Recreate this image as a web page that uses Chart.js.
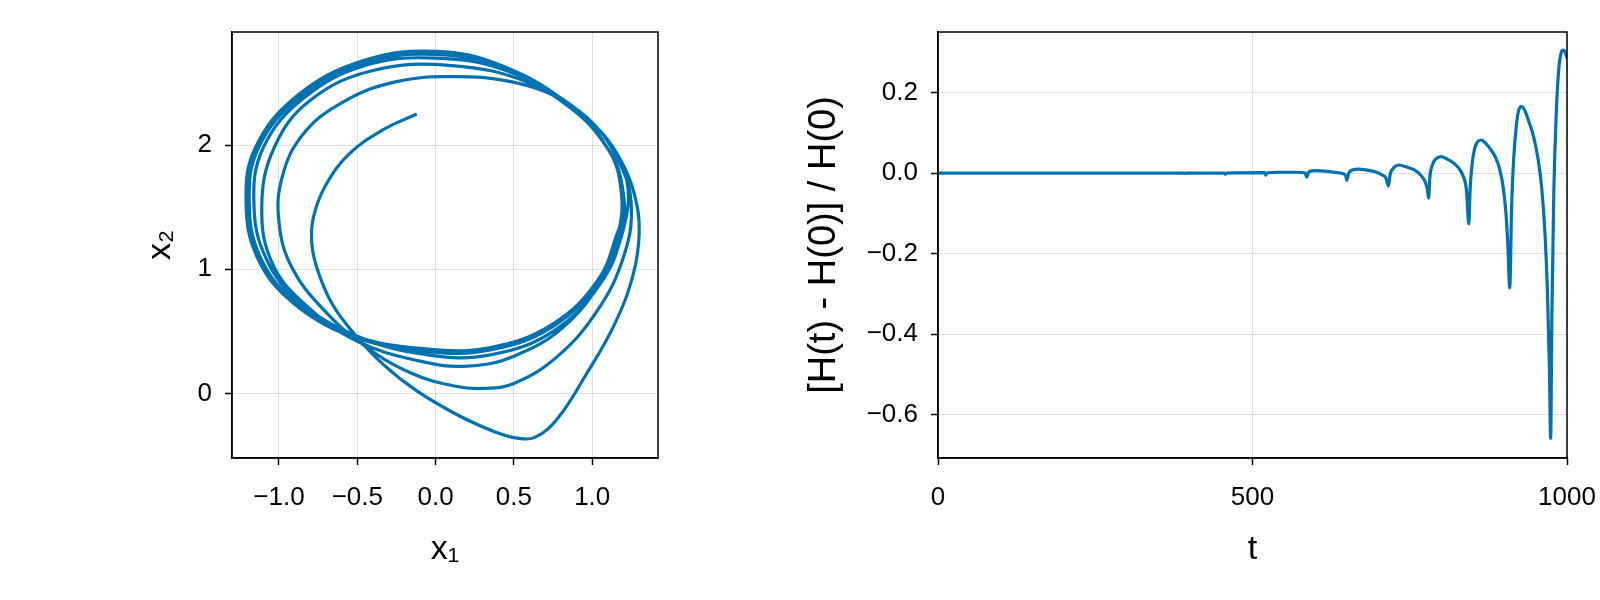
<!DOCTYPE html>
<html lang="en">
<head>
  <meta charset="UTF-8">
  <title>Phase portrait and energy error</title>
  <script src="https://cdn.jsdelivr.net/npm/chart.js"></script>
  <style>
    html, body { margin: 0; padding: 0; background: #fff; }
    #wrap { position: relative; width: 1600px; height: 600px; overflow: hidden; }
    .box { position: absolute; top: 0; width: 800px; height: 600px; }
  </style>
</head>
<body>
<div id="wrap">
  <div class="box" style="left:0"><canvas id="phase"></canvas></div>
  <div class="box" style="left:800px"><canvas id="energy"></canvas></div>
</div>
<script>
  // phase-space trajectory (x1, x2)
  const x1 = [-0.12, -0.34, -0.55, -0.7, -0.78, -0.79, -0.75, -0.66, -0.52, -0.34, -0.12, 0.15, 0.38, 0.52, 0.64, 0.78, 0.96, 1.14, 1.26, 1.30, 1.27, 1.19, 1.06,
    0.85, 0.55, 0.15, -0.25, -0.6, -0.85, -0.98, -1.0, -0.92, -0.72, -0.45, -0.15, 0.12, 0.3, 0.5, 0.78, 1.04, 1.2, 1.25, 1.18,
    0.98, 0.6, 0.1, -0.4, -0.8, -1.03, -1.11, -1.04, -0.82, -0.5, -0.1, 0.2, 0.5, 0.83, 1.08, 1.21, 1.22, 1.12,
    0.88, 0.45, 0.0, -0.45, -0.84, -1.1, -1.16, -1.08, -0.87, -0.5, -0.05, 0.35, 0.75, 1.05, 1.19, 1.19, 1.1,
    0.86, 0.42, 0.0, -0.46, -0.87, -1.13, -1.19, -1.12, -0.9, -0.55, -0.08, 0.35, 0.75, 1.04, 1.17, 1.18, 1.1,
    0.86, 0.42, 0.0, -0.46, -0.88, -1.14, -1.20, -1.13, -0.91, -0.56, -0.08, 0.35, 0.75, 1.04, 1.17, 1.18, 1.1,
    0.86, 0.42, 0.0, -0.46, -0.88, -1.15, -1.21, -1.14, -0.92, -0.56, -0.08, 0.35, 0.75, 1.04, 1.17];
  const x2 = [2.25, 2.12, 1.93, 1.68, 1.42, 1.2, 0.98, 0.72, 0.48, 0.24, 0.02, -0.18, -0.31, -0.36, -0.35, -0.2, 0.15, 0.55, 0.95, 1.3, 1.6, 1.86, 2.1,
    2.33, 2.49, 2.55, 2.51, 2.34, 2.08, 1.74, 1.38, 1.02, 0.68, 0.38, 0.16, 0.06, 0.04, 0.08, 0.3, 0.68, 1.1, 1.5, 1.84,
    2.2, 2.5, 2.64, 2.6, 2.36, 1.98, 1.5, 1.04, 0.7, 0.42, 0.26, 0.22, 0.3, 0.55, 0.96, 1.38, 1.72, 2.0,
    2.3, 2.6, 2.7, 2.64, 2.38, 1.98, 1.52, 1.08, 0.74, 0.46, 0.31, 0.31, 0.5, 0.88, 1.3, 1.68, 1.97,
    2.3, 2.62, 2.73, 2.66, 2.38, 1.98, 1.54, 1.1, 0.74, 0.47, 0.34, 0.35, 0.54, 0.9, 1.3, 1.68, 1.97,
    2.31, 2.63, 2.745, 2.67, 2.39, 1.98, 1.54, 1.1, 0.74, 0.47, 0.35, 0.36, 0.55, 0.91, 1.31, 1.68, 1.97,
    2.32, 2.64, 2.755, 2.68, 2.40, 1.98, 1.54, 1.1, 0.74, 0.48, 0.36, 0.37, 0.56, 0.92, 1.32];

  // relative energy error over time
  const tVals = [0, 100, 200, 300, 390, 392, 394, 455, 457, 459, 519, 521, 523, 540, 570, 584, 586, 590, 600, 620, 640, 648, 650, 653,
    660, 668, 680, 695, 705, 712, 716, 719, 725, 733, 745, 758, 768, 774, 778, 780, 782, 786, 792, 800, 808, 818, 828, 835, 840, 844,
    846, 849, 853, 858, 864, 870, 878, 886, 893, 899, 903, 906, 909, 912, 915, 919, 923, 928, 933, 940, 947, 954, 960, 965, 969, 972, 974,
    976, 979, 983, 987, 991, 994, 997, 1000];
  const hErr = [0, 0, 0, 0, 0, -0.001, 0, 0, -0.003, 0, 0.001, -0.005, 0, 0.002, 0.002, 0, -0.01, 0.004, 0.006, 0.004, 0, -0.006, -0.018, 0,
    0.008, 0.010, 0.008, 0.003, -0.004, -0.012, -0.032, -0.002, 0.014, 0.020, 0.015, 0.007, -0.006, -0.02, -0.04, -0.062, -0.01, 0.02, 0.036, 0.041, 0.036, 0.027, 0.012, -0.008, -0.04, -0.126,
    -0.04, 0.02, 0.06, 0.078, 0.082, 0.075, 0.06, 0.04, 0.01, -0.04, -0.1, -0.18, -0.285, -0.08, 0.03, 0.11, 0.155, 0.165, 0.155, 0.125, 0.09, 0.035, -0.04, -0.15, -0.3, -0.48, -0.658,
    -0.35, -0.05, 0.15, 0.26, 0.3, 0.305, 0.3, 0.285];

  const phaseXTicks = [-1, -0.5, 0, 0.5, 1];
  const phaseYTicks = [0, 1, 2];
  const tTicks = [0, 500, 1000];
  const errTicks = [-0.6, -0.4, -0.2, 0, 0.2];

  const BLUE = '#0072b2';
  const FONT = "'Liberation Sans', Arial, sans-serif";

  const minus = (s) => s.replace('-', '\u2212');

  // frame on top/right of the plot area
  const frame = {
    id: 'frame',
    afterDraw(chart) {
      const a = chart.chartArea, c = chart.ctx;
      c.save();
      c.strokeStyle = '#000';
      c.lineWidth = 1.5;
      c.strokeRect(a.left, a.top, a.right - a.left, a.bottom - a.top);
      c.restore();
    }
  };

  function axis(cfg) {
    return {
      type: 'linear',
      min: cfg.min, max: cfg.max,
      afterBuildTicks: (s) => { s.ticks = cfg.ticks.map(v => ({ value: v })); },
      afterFit: (s) => {
        if (cfg.w) s.width = cfg.w;
        if (cfg.h) s.height = cfg.h;
        s.paddingLeft = 0; s.paddingRight = 0; s.paddingTop = 0; s.paddingBottom = 0;
      },
      grid: { color: 'rgba(0,0,0,0.12)', lineWidth: 1, tickColor: '#000', tickLength: 7, tickWidth: 1.5 },
      border: { color: '#000', width: 1.5 },
      ticks: {
        color: '#000', font: { family: FONT, size: 26 }, padding: cfg.pad, maxRotation: 0,
        callback: (v) => minus(cfg.fmt(v))
      },
      title: { display: true, text: cfg.title, color: '#000', font: { family: FONT, size: cfg.tsize || 34 }, padding: cfg.tpad }
    };
  }

  const commonOpts = {
    responsive: false, animation: false,
    plugins: { legend: { display: false }, tooltip: { enabled: false } }
  };

  function makeCanvas(id) {
    const cv = document.getElementById(id);
    cv.width = 800; cv.height = 600;
    cv.style.width = '800px'; cv.style.height = '600px';
    return cv;
  }

  new Chart(makeCanvas('phase'), {
    type: 'scatter',
    data: {
      datasets: [{
        data: x1.map((v, i) => ({ x: v, y: x2[i] })),
        showLine: true, borderColor: BLUE, borderWidth: 3.2, pointRadius: 0, tension: 0.4, fill: false
      }]
    },
    options: Object.assign({}, commonOpts, {
      layout: { padding: { top: 32, right: 142, left: 0, bottom: 0 } },
      scales: {
        x: axis({ min: -1.30, max: 1.42, ticks: phaseXTicks, h: 142, pad: 17, tpad: { top: 0, bottom: 30 },
          title: 'x\u2081', fmt: v => v.toFixed(1) }),
        y: axis({ min: -0.52, max: 2.91, ticks: phaseYTicks, w: 232, pad: 13, tpad: { top: 140, bottom: 0 },
          title: 'x\u2082', fmt: v => String(v) })
      }
    }),
    plugins: [frame]
  });

  new Chart(makeCanvas('energy'), {
    type: 'scatter',
    data: {
      datasets: [{
        data: tVals.map((v, i) => ({ x: v, y: hErr[i] })),
        showLine: true, borderColor: BLUE, borderWidth: 3.2, pointRadius: 0, cubicInterpolationMode: 'monotone', fill: false
      }]
    },
    options: Object.assign({}, commonOpts, {
      layout: { padding: { top: 32, right: 33, left: 0, bottom: 0 } },
      scales: {
        x: axis({ min: 0, max: 1000, ticks: tTicks, h: 142, pad: 17, tpad: { top: 0, bottom: 30 },
          title: 't', fmt: v => String(v) }),
        y: axis({ min: -0.707, max: 0.35, ticks: errTicks, w: 138, pad: 13, tpad: { top: 2, bottom: 0 },
          title: '[H(t) - H(0)] / H(0)', tsize: 38, fmt: v => v.toFixed(1) })
      }
    }),
    plugins: [frame]
  });
</script>
</body>
</html>
